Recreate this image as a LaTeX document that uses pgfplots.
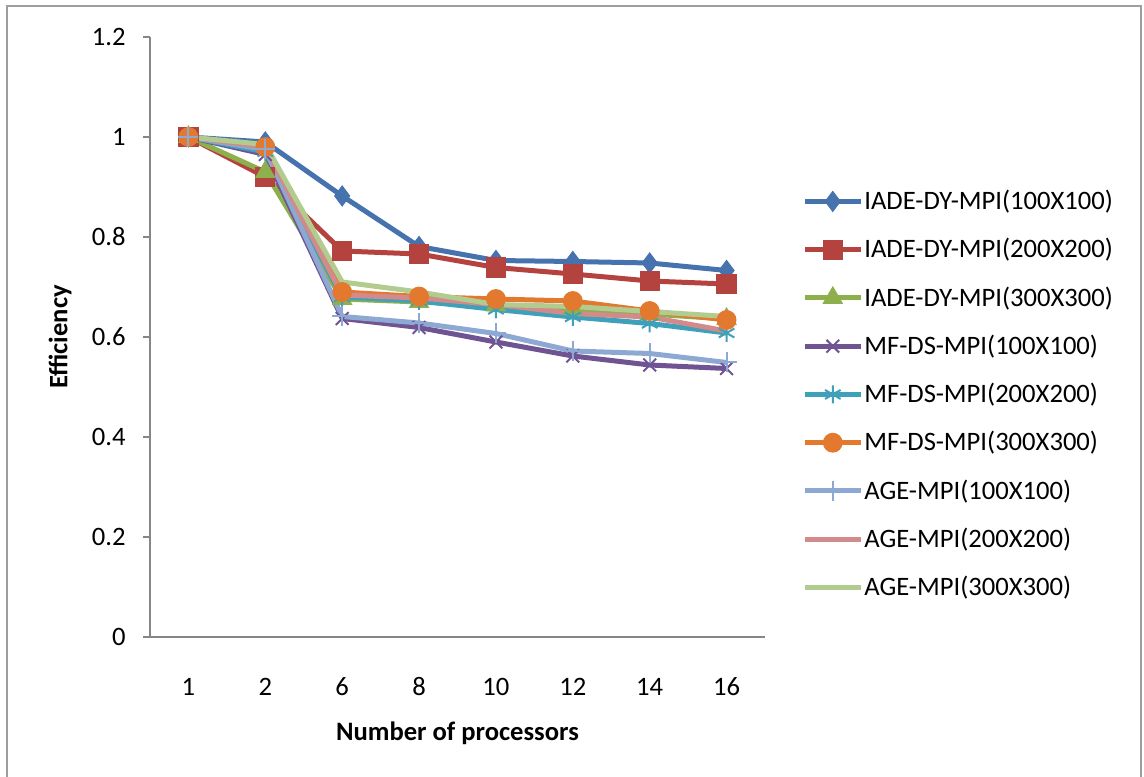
\documentclass[border=0pt]{standalone}
\usepackage{fontspec}
\setmainfont{Carlito}
\usepackage{pgfplots}
\pgfplotsset{compat=1.18}
\definecolor{c1}{HTML}{4672AE}
\definecolor{c2}{HTML}{B4423F}
\definecolor{c3}{HTML}{8DB04D}
\definecolor{c4}{HTML}{6F5393}
\definecolor{c5}{HTML}{3FA0BA}
\definecolor{c6}{HTML}{E2792F}
\definecolor{c7}{HTML}{8DA8D2}
\definecolor{c8}{HTML}{D38A8A}
\definecolor{c9}{HTML}{B2CB8E}
\definecolor{axgray}{HTML}{868686}
\begin{document}
\begin{tikzpicture}[x=1pt,y=1pt]
\useasboundingbox (0,0) rectangle (572,388);
\draw[axgray!80, line width=1pt] (3.5,-5) -- (3.5,385) -- (570.5,385) -- (570.5,-5);
\begin{axis}[
  at={(75pt,69.5pt)}, anchor=south west,
  scale only axis, width=307.5pt, height=300pt,
  font=\fontsize{13.3}{16}\selectfont,
  xmin=-0.5, xmax=7.5, ymin=0, ymax=1.2,
  xtick={0,1,2,3,4,5,6,7},
  xticklabels={1,2,6,8,10,12,14,16},
  ytick={0,0.2,0.4,0.6,0.8,1,1.2},
  yticklabels={0,0.2,0.4,0.6,0.8,1,1.2},
  axis x line*=bottom, axis y line*=left,
  axis line style={draw=axgray, line width=0.9pt, -},
  xtick style={draw=none},
  ytick style={draw=axgray, line width=0.9pt},
  tick align=outside, major tick length=3.5pt,
  xticklabel style={anchor=center, yshift=-21.5pt},
  yticklabel style={anchor=east, inner sep=0pt, xshift=-8.5pt},
  xlabel={\bfseries Number of processors},
  ylabel={\bfseries Efficiency},
  xlabel style={at={(axis description cs:0.5,-0.16)}, anchor=center},
  ylabel style={at={(axis description cs:-0.146,0.5)}, anchor=center, rotate=0},
  legend style={at={(1.06,0.752)}, anchor=north west, draw=none, fill=none,
    row sep=8.9pt, inner xsep=0pt, inner ysep=0pt,
    font=\fontsize{13.3}{16}\selectfont,
    nodes={inner xsep=0.5pt}},
  legend cell align=left,
  legend image code/.code={\draw[mark repeat=2,mark phase=2,#1] plot coordinates {(0pt,0pt) (14pt,0pt) (28pt,0pt)};},
  every axis plot/.append style={line width=2.5pt},
]
\addplot[c1, mark=diamond*, mark size=5pt, mark options={line width=0.5pt}] coordinates {(0,1) (1,0.99) (2,0.882) (3,0.781) (4,0.753) (5,0.751) (6,0.748) (7,0.733)};
\addlegendentry{IADE-DY-MPI(100X100)}
\addplot[c2, mark=square*, mark size=4.8pt, mark options={line width=0.5pt}] coordinates {(0,1) (1,0.92) (2,0.772) (3,0.766) (4,0.739) (5,0.726) (6,0.712) (7,0.706)};
\addlegendentry{IADE-DY-MPI(200X200)}
\addplot[c3, mark=triangle*, mark size=5.5pt, mark options={line width=0.5pt}] coordinates {(0,1) (1,0.93) (2,0.676) (3,0.67) (4,0.663) (5,0.656) (6,0.646) (7,0.636)};
\addlegendentry{IADE-DY-MPI(300X300)}
\addplot[c4, mark=x, mark size=4.5pt, mark options={line width=1pt}] coordinates {(0,1) (1,0.965) (2,0.637) (3,0.619) (4,0.59) (5,0.562) (6,0.544) (7,0.537)};
\addlegendentry{MF-DS-MPI(100X100)}
\addplot[c5, mark=asterisk, mark size=4.5pt, mark options={line width=1pt}] coordinates {(0,1) (1,0.97) (2,0.68) (3,0.672) (4,0.655) (5,0.64) (6,0.627) (7,0.608)};
\addlegendentry{MF-DS-MPI(200X200)}
\addplot[c6, mark=*, mark size=4.7pt, mark options={line width=0.5pt}] coordinates {(0,1) (1,0.98) (2,0.69) (3,0.681) (4,0.676) (5,0.672) (6,0.652) (7,0.634)};
\addlegendentry{MF-DS-MPI(300X300)}
\addplot[c7, mark=+, mark size=5pt, mark options={line width=1pt}] coordinates {(0,1) (1,0.975) (2,0.641) (3,0.628) (4,0.607) (5,0.572) (6,0.567) (7,0.549)};
\addlegendentry{AGE-MPI(100X100)}
\addplot[c8, no marks] coordinates {(0,1) (1,0.98) (2,0.684) (3,0.678) (4,0.665) (5,0.647) (6,0.64) (7,0.612)};
\addlegendentry{AGE-MPI(200X200)}
\addplot[c9, no marks] coordinates {(0,1) (1,0.985) (2,0.71) (3,0.69) (4,0.665) (5,0.661) (6,0.651) (7,0.641)};
\addlegendentry{AGE-MPI(300X300)}
\end{axis}
\end{tikzpicture}
\end{document}
